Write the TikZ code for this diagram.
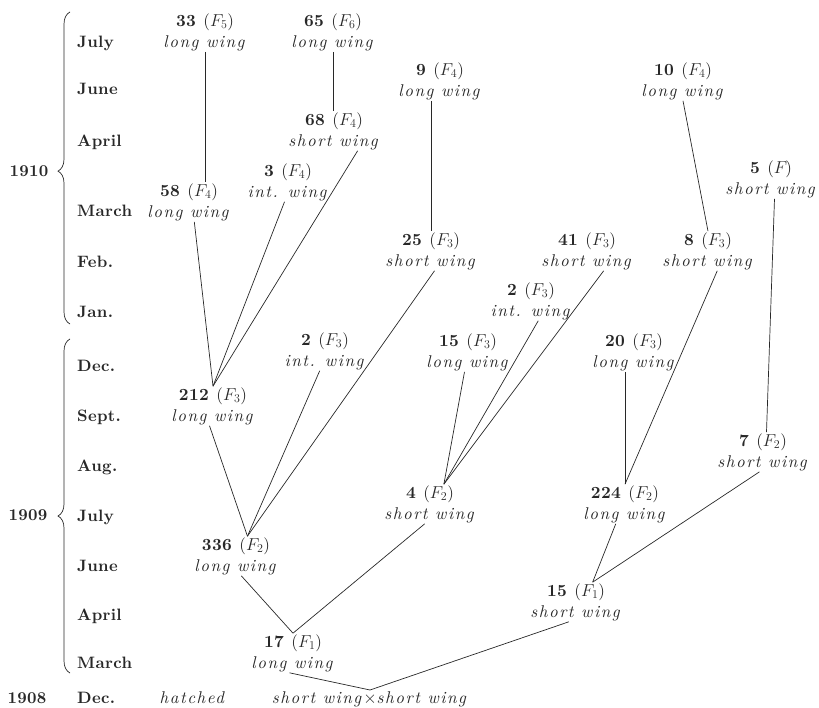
\documentclass[tikz,border=0pt]{standalone}
\usepackage{amsmath,amssymb}
\usepackage{fontspec}
\setmainfont{lmroman10-regular.otf}[
  BoldFont=lmroman10-bold.otf,
  ItalicFont=lmroman10-italic.otf,
  BoldItalicFont=lmroman10-bolditalic.otf,
  LetterSpace=9,
  BoldFeatures={LetterSpace=2}]
\usepackage{tikz}
\usetikzlibrary{positioning,calc,decorations.pathreplacing}
\definecolor{ink}{RGB}{40,40,40}
\newcommand{\brood}[3]{\textbf{#1} ($F_{#2}$)\\\textit{#3}}
\tikzset{
  txt/.style={font=\fontsize{17}{21}\selectfont,text=ink},
  gen/.style={txt,align=center,inner sep=1pt},
  mon/.style={txt,font=\fontsize{16.5}{21}\selectfont\bfseries,anchor=base west,inner sep=0pt},
  yr/.style={mon,anchor=base},
  ln/.style={draw=ink,line width=0.7pt},
  brc/.style={draw=ink,line width=0.7pt,decorate,decoration={brace,amplitude=12pt}},
}
\begin{document}
\begin{tikzpicture}[x=1pt,y=-1pt]
\useasboundingbox (0,0) rectangle (819,708);
% pedigree of the wing forms, generations F1 to F6
\node[yr] (y1910) at (29,177) {1910};
\node[yr] (y1909) at (28,520) {1909};
\node[yr] (y1908) at (27,703) {1908};
\coordinate (b1top) at (70,12);
\coordinate (b1bot) at (70,324);
\coordinate (b2top) at (70,339);
\coordinate (b2bot) at (70,673);
\draw[brc,decoration={aspect=0.49}] (b1bot) -- (b1top);
\draw[brc,decoration={aspect=0.47}] (b2bot) -- (b2top);
\foreach \m/\y in {July/48,June/95,April/147,March/217,Feb./268,Jan./318,
                   Dec./372,Sept./421,Aug./471,July/521,June/571,April/620,March/668,Dec./703}
  \node[mon] (m\y) at (77,\y) {\m};

\node[gen] (n33)  at (205,32)  {\brood{33}{5}{long wing}};
\node[gen] (n65)  at (333,32)  {\brood{65}{6}{long wing}};
\node[gen] (n9)   at (440,81)  {\brood{9}{4}{long wing}};
\node[gen] (n10)  at (683,81)  {\brood{10}{4}{long wing}};
\node[gen] (n68)  at (334,131) {\brood{68}{4}{short wing}};
\node[gen] (n3)   at (288,182) {\brood{3}{4}{int. wing}};
\node[gen] (n58)  at (189,202) {\brood{58}{4}{long wing}};
\node[gen] (n5)   at (771,179) {\brood{5}{}{short wing}};
\node[gen] (n25)  at (431,251) {\brood{25}{3}{short wing}};
\node[gen] (n41)  at (587,251) {\brood{41}{3}{short wing}};
\node[gen] (n8)   at (708,251) {\brood{8}{3}{short wing}};
\node[gen] (n2a)  at (531,301) {\brood{2}{3}{int. wing}};
\node[gen] (n2b)  at (325,351) {\brood{2}{3}{int. wing}};
\node[gen] (n15b) at (468,352) {\brood{15}{3}{long wing}};
\node[gen] (n20)  at (634,352) {\brood{20}{3}{long wing}};
\node[gen] (n212) at (213,406) {\brood{212}{3}{long wing}};
\node[gen] (n7)   at (763,452) {\brood{7}{2}{short wing}};
\node[gen] (n4)   at (430,504) {\brood{4}{2}{short wing}};
\node[gen] (n224) at (625,504) {\brood{224}{2}{long wing}};
\node[gen] (n336) at (236,556) {\brood{336}{2}{long wing}};
\node[gen] (n15a) at (576,602) {\brood{15}{1}{short wing}};
\node[gen] (n17)  at (293,653) {\brood{17}{1}{long wing}};
\node[txt,anchor=base,inner sep=1pt] (hatch) at (193,703) {\textit{hatched}};
\node[txt,anchor=base,inner sep=1pt] (cross) at (370,703) {\textit{short wing}$\times$\textit{short wing}};

\draw[ln] (n33.south) -- (n33.south |- n58.north);
\draw[ln] (n65.south) -- (n65.south |- n68.north);
\draw[ln] (n25.north |- n9.south) -- (n25.north);
\draw[ln] (n10.south) -- (n8.north);
\draw[ln] (n5.-80) -- (n7.80);
\draw[ln] (n58.-75) -- (n212.north);
\draw[ln] (n3.-100) -- (n212.north);
\draw[ln] (n68.-40) -- (n212.north);
\draw[ln] (n212.-100) -- (n336.60);
\draw[ln] (n2b.-105) -- (n336.60);
\draw[ln] (n25.-80) -- (n336.60);
\draw[ln] (n15b.-100) -- (n4.55);
\draw[ln] (n2a.-70) -- (n4.55);
\draw[ln] (n41.-50) -- (n4.55);
\draw[ln] (n224.north |- n20.south) -- (n224.north);
\draw[ln] (n8.-65) -- (n224.north);
\draw[ln] (n224.-115) -- (n15a.50);
\draw[ln] (n7.-100) -- (n15a.50);
\draw[ln] (n336.-75) -- (n17.north);
\draw[ln] (n4.-105) -- (n17.north);
\draw[ln] (n17.-100) -- (cross.north);
\draw[ln] (n15a.-110) -- (cross.north);
\end{tikzpicture}
\end{document}
